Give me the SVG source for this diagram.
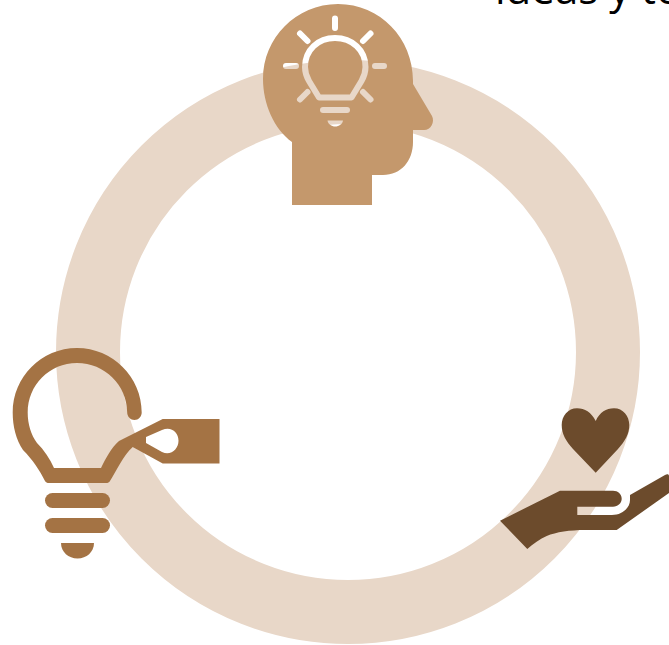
<svg xmlns="http://www.w3.org/2000/svg" width="669" height="645" viewBox="0 0 669 645">
<style>
.t{font-family:"Open Sans","Noto Sans",sans-serif;font-size:42px;fill:#000}
.b{fill:#a47344}
.h{fill:#c4986c}
.m{stroke:#000;fill:none;stroke-linecap:round;stroke-linejoin:round}
</style>
<defs>
<mask id="bulbHole" maskUnits="userSpaceOnUse" x="255" y="0" width="190" height="215">
<rect x="255" y="0" width="190" height="215" fill="#fff"/>
<path class="m" stroke-width="6" d="M335 18.500V28M300 33.500L307.500 41M370.500 33.500L363 41M286 66H296M375 66H384M300 99.500L307.500 92M370.500 99.500L363 92"/>
<path class="m" stroke-width="6" d="M319 97.500L309 81C305.500 75 305 71 305 67C305 50 318 38 335 38C352 38 365.500 50 365.500 67C365.500 71 365 75 361.500 81L351.500 97.500Z"/>
<path class="m" stroke-width="6" d="M323 110H347"/>
<path d="M327.500 120.500H343C342.500 124 339 126.500 335.200 126.500C331.500 126.500 328 124 327.500 120.500Z" fill="#000"/>
</mask>
</defs>
<text class="t" x="495" y="4">ideas y to</text>
<circle id="ring" cx="348" cy="352" r="260" fill="none" stroke="#e8d7c8" stroke-width="64"/>
<g id="head">
<path class="h" mask="url(#bulbHole)" d="M292 142C274 129 263 104 263 79C263 38 296 4 338 4C380 4 413 38 413 81V84L432 116C435 122 431 130 424 130H413V142C413 161 401 175 383 175H372V205H292Z"/>
</g>
<g id="bulb">
<path class="b" fill-rule="evenodd" d="M162.700 419H219.500V463.500H162.700L132.700 447C123 456 117 470 110 481C109 482.500 108 483 106 483H49C47 483 46 482.500 45 481C40 471 33 460 23 450C16 440 12.700 426 12.700 412.500C12.700 377 41.500 348 77 348C112.500 348 141.700 377 141.700 412.500C141.700 416.500 138.500 420 134.500 420C130.500 420 127.200 416.500 127.200 412.500C127.200 385 104.500 363 77 363C49.500 363 27.700 385 27.700 412.500C27.700 424 31 435 37 443C44 450 50 459 54 468H101C106 458 111 448 119 441ZM146 437V443L162 452C171 456 178.500 449 178.500 440.700C178.500 432 171 426 162 430Z"/>
<rect class="b" x="45" y="493" width="65" height="15" rx="7.500"/>
<rect class="b" x="45" y="518" width="65" height="15" rx="7.500"/>
<path class="b" d="M61 543H94C94 552 86.500 558.500 77.500 558.500C68.500 558.500 61 552 61 543Z"/>
</g>
<g id="hand">
<path fill="#6c4b2c" d="M595.700 421C591 412 585 408.300 577 408.300C568 408.300 561.700 416 561.700 425C561.700 434 566 441 573 449L595.700 472.700L618 449C625 441 629.300 434 629.300 425C629.300 416 623 408.300 614 408.300C606 408.300 600 412 595.700 421Z"/>
<path fill="#6c4b2c" d="M500 520.700L560 490.700H613C618 490.700 621.700 494 621.700 498.700C621.700 503 618 506.700 613 506.700H577.300V515H612C622 515 630 508 630 500V495L665 475C667 474 669 474 669 476V493L616.700 530H585C570 530 556 532 546.700 536C540 539 533 544 527.300 549Z"/>
</g>
</svg>
